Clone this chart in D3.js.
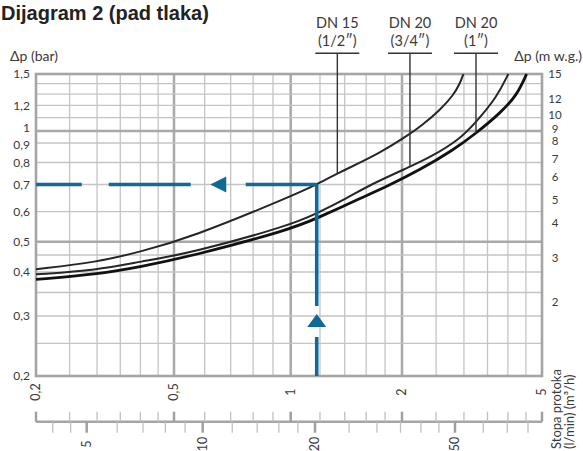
<!DOCTYPE html>
<html lang="hr">
<head>
<meta charset="UTF-8">
<title>Dijagram 2 (pad tlaka)</title>
<script src="https://d3js.org/d3.v7.min.js"></script>
<style>
  body { margin: 0; background: #fff; }
  text { font-family: Lato, "DejaVu Sans", sans-serif; fill: #3a3a3a; }
  .title { font-family: "Liberation Sans", Arial, sans-serif; font-weight: bold; fill: #222; }
</style>
</head>
<body>
<div id="chart"></div>
<script>
// flow rate grid (m3/h) and pressure drop grid (bar)
const qGrid = [0.2, 0.25, 0.3, 0.35, 0.4, 0.45, 0.5, 0.6, 0.7, 0.8, 0.9, 1, 1.2, 1.4, 1.6, 1.8, 2, 2.5, 3, 3.5, 4, 4.5, 5];
const qMajor = [0.5, 1, 2];
const qLabels = [0.2, 0.5, 1, 2, 5];
const dpGrid = [0.2, 0.25, 0.3, 0.35, 0.4, 0.45, 0.5, 0.6, 0.7, 0.8, 0.9, 1, 1.1, 1.2, 1.3, 1.4, 1.5];
const dpMajor = [0.5, 1];
const dpLabels = [0.2, 0.3, 0.4, 0.5, 0.6, 0.7, 0.8, 0.9, 1, 1.2, 1.5];
const mwgLabels = [2, 3, 4, 5, 6, 7, 8, 9, 10, 12, 15];
const lminTicks = [4, 4.5, 5, 6, 7, 8, 9, 10, 12, 14, 16, 18, 20, 25, 30, 35, 40, 45, 50, 60, 70, 80];
const lminLabels = [5, 10, 20, 50];

// curves [Q m3/h, dp bar]
const dn15 = [[0.2, 0.408], [0.3, 0.428], [0.4, 0.462], [0.55, 0.512], [1, 0.654], [1.176, 0.70], [1.337, 0.749], [1.744, 0.846], [2.107, 0.975], [2.25, 1.03], [2.565, 1.16], [2.8, 1.29], [2.92, 1.4], [2.99, 1.5]];
const dn20a = [[0.2, 0.394], [0.3, 0.405], [0.4, 0.430], [0.55, 0.456], [1, 0.553], [1.176, 0.594], [1.417, 0.647], [1.639, 0.699], [2.107, 0.780], [2.402, 0.825], [2.92, 0.93], [3.246, 1.065], [3.72, 1.272], [4.01, 1.5]];
const dn20b = [[0.2, 0.381], [0.3, 0.394], [0.4, 0.415], [0.55, 0.445], [1, 0.539], [1.176, 0.576], [1.54, 0.647], [1.818, 0.692], [2.25, 0.765], [2.8, 0.863], [3.246, 0.98], [3.8, 1.135], [4.24, 1.287], [4.52, 1.5]];
const curveWidths = [2, 2, 2.8];

const sizes = ["DN 15", "DN 20", "DN 20"];
const sizeInches = ["(1/2″)", "(3/4″)", "(1″)"];
const leaderQ = [1.337, 2.107, 3.246];
const leaderDp = [0.749, 0.780, 0.98];

// example operating point
const opQ = 1.176;
const opDp = 0.70;

const svg = d3.select("#chart").append("svg")
    .attr("width", 583)
    .attr("height", 451);

const x = d3.scaleLog()
    .domain([0.2, 0.5, 1, 2, 5])
    .range([36, 174, 290.7, 402, 542]);

const y = d3.scaleLog()
    .domain([0.2, 0.25, 0.3, 0.35, 0.4, 0.45, 0.5, 0.6, 0.7, 0.8, 0.9, 1, 1.5])
    .range([376, 343.3, 316, 292.5, 272, 255, 241.7, 211.7, 184.5, 162.5, 143, 131, 74]);

// right hand scale (m w.g.) is printed on its own spacing
const yMwg = d3.scaleLog()
    .domain([2, 3, 4, 5, 6, 7, 8, 9, 10, 12, 15])
    .range([301.7, 258, 223, 200, 177, 159, 141, 128.5, 115, 99, 74]);

const xLmin = d3.scaleLog()
    .domain([4, 5, 10, 20, 50, 80])
    .range([52.7, 86.7, 202.7, 315, 455, 528]);

const fmt = v => String(v).replace(".", ",");
const x0 = x(0.2), x1 = x(5), yTop = y(1.5), yBot = y(0.2);

// grid
const grid = svg.append("g");
grid.selectAll(".vg")
    .data(qGrid.filter(d => d > 0.2 && d < 5))
    .join("line")
    .attr("x1", d => x(d)).attr("x2", d => x(d))
    .attr("y1", yTop).attr("y2", yBot)
    .attr("stroke", d => qMajor.includes(d) ? "#a9a9a9" : "#c4c4c4")
    .attr("stroke-width", d => qMajor.includes(d) ? 2.5 : 1.3);

grid.selectAll(".hg")
    .data(dpGrid.filter(d => d > 0.2 && d < 1.5))
    .join("line")
    .attr("x1", x0).attr("x2", x1)
    .attr("y1", d => y(d)).attr("y2", d => y(d))
    .attr("stroke", d => dpMajor.includes(d) ? "#a9a9a9" : "#c4c4c4")
    .attr("stroke-width", d => dpMajor.includes(d) ? 2.5 : 1.3);

svg.append("rect")
    .attr("x", x0).attr("y", yTop)
    .attr("width", x1 - x0).attr("height", yBot - yTop)
    .attr("fill", "none")
    .attr("stroke", "#a5a5a5")
    .attr("stroke-width", 2.6);

// curves
const line = d3.line()
    .x(d => x(d[0]))
    .y(d => y(d[1]))
    .curve(d3.curveBasis);

svg.selectAll(".curve")
    .data([dn15, dn20a, dn20b])
    .join("path")
    .attr("d", line)
    .attr("fill", "none")
    .attr("stroke", (d, i) => i === 2 ? "#111" : "#262626")
    .attr("stroke-width", (d, i) => curveWidths[i]);

// operating point, dashed blue lines with arrows
const blue = "#0f6a97";
const px = x(opQ), py = y(opDp);

svg.append("line")
    .attr("x1", px).attr("y1", py)
    .attr("x2", x0).attr("y2", py)
    .attr("stroke", blue).attr("stroke-width", 3.6)
    .attr("stroke-dasharray", "71,55,82,27,60");

svg.append("line")
    .attr("x1", px).attr("y1", yBot)
    .attr("x2", px).attr("y2", py)
    .attr("stroke", blue).attr("stroke-width", 3.6)
    .attr("stroke-dasharray", "39,31,130");

const ax = px - 71 - 55 / 2;
svg.append("path")
    .attr("d", `M${ax - 8},${py} L${ax + 8},${py - 8} L${ax + 8},${py + 8} Z`)
    .attr("fill", blue);

const ay = yBot - 39 - 10;
svg.append("path")
    .attr("d", `M${px},${ay - 13} L${px + 9.5},${ay} L${px - 9.5},${ay} Z`)
    .attr("fill", blue);

// pipe size labels with leaders
const lab = svg.selectAll(".size")
    .data(sizes)
    .join("g");

lab.append("text")
    .attr("x", (d, i) => x(leaderQ[i]))
    .attr("y", 28)
    .attr("text-anchor", "middle")
    .style("font-size", "14.5px")
    .text(d => d);

lab.append("text")
    .attr("x", (d, i) => x(leaderQ[i]))
    .attr("y", 46)
    .attr("text-anchor", "middle")
    .style("font-size", "14.5px")
    .text((d, i) => sizeInches[i]);

lab.append("line")
    .attr("x1", (d, i) => x(leaderQ[i]) - 22)
    .attr("x2", (d, i) => x(leaderQ[i]) + 22)
    .attr("y1", 53.3).attr("y2", 53.3)
    .attr("stroke", "#333").attr("stroke-width", 1.4);

lab.append("line")
    .attr("x1", (d, i) => x(leaderQ[i]))
    .attr("x2", (d, i) => x(leaderQ[i]))
    .attr("y1", 53.3)
    .attr("y2", (d, i) => y(leaderDp[i]))
    .attr("stroke", "#333").attr("stroke-width", 1.4);

// left axis labels (bar); "1" and "0,9" sit close, pull them apart a little
const nudge = { 1: -3, 0.9: 1.5 };
svg.selectAll(".yl")
    .data(dpLabels)
    .join("text")
    .attr("x", 30)
    .attr("y", d => y(d) + (nudge[d] || 0))
    .attr("dy", "0.35em")
    .attr("text-anchor", "end")
    .style("font-size", "12px")
    .text(fmt);

// right axis labels (m w.g.)
svg.selectAll(".yr")
    .data(mwgLabels)
    .join("text")
    .attr("x", 555)
    .attr("y", d => yMwg(d))
    .attr("dy", "0.35em")
    .attr("text-anchor", "middle")
    .style("font-size", "11.5px")
    .text(d => d);

svg.append("text")
    .attr("x", 10).attr("y", 61)
    .style("font-size", "14px")
    .text("Δp (bar)");

svg.append("text")
    .attr("x", 582).attr("y", 61)
    .attr("text-anchor", "end")
    .style("font-size", "14px")
    .text("Δp (m w.g.)");

// flow labels under plot (m3/h)
svg.selectAll(".xl")
    .data(qLabels)
    .join("text")
    .attr("transform", d => `translate(${x(d)},392) rotate(-90)`)
    .attr("dy", "0.35em")
    .attr("text-anchor", "middle")
    .style("font-size", "12.5px")
    .text(fmt);

// secondary flow axis
const yAx = 421.7;
svg.append("line")
    .attr("x1", x0).attr("x2", x1)
    .attr("y1", yAx).attr("y2", yAx)
    .attr("stroke", "#a5a5a5").attr("stroke-width", 2.6);

svg.selectAll(".tu")
    .data(qGrid)
    .join("line")
    .attr("x1", d => x(d)).attr("x2", d => x(d))
    .attr("y1", yAx - 10).attr("y2", yAx)
    .attr("stroke", d => qLabels.includes(d) ? "#a0a0a0" : "#c0c0c0")
    .attr("stroke-width", d => qLabels.includes(d) ? 2.5 : 1.3);

svg.selectAll(".td")
    .data(lminTicks)
    .join("line")
    .attr("x1", d => xLmin(d)).attr("x2", d => xLmin(d))
    .attr("y1", yAx).attr("y2", yAx + 11)
    .attr("stroke", d => lminLabels.includes(d) ? "#a0a0a0" : "#c0c0c0")
    .attr("stroke-width", d => lminLabels.includes(d) ? 2.5 : 1.3);

svg.selectAll(".ll")
    .data(lminLabels)
    .join("text")
    .attr("transform", d => `translate(${xLmin(d)},444) rotate(-90)`)
    .attr("dy", "0.35em")
    .attr("text-anchor", "middle")
    .style("font-size", "12.5px")
    .text(d => d);

const fl = svg.append("text")
    .attr("transform", "translate(561,449) rotate(-90)")
    .style("font-size", "13px");
fl.append("tspan").attr("x", 0).attr("dy", 0).text("Stopa protoka");
fl.append("tspan").attr("x", 0).attr("dy", "1em").text("(l/min) (m³/h)");

// title
svg.append("text")
    .attr("class", "title")
    .attr("x", 1).attr("y", 19.5)
    .style("font-size", "20px")
    .text("Dijagram 2 (pad tlaka)");
</script>
</body>
</html>
